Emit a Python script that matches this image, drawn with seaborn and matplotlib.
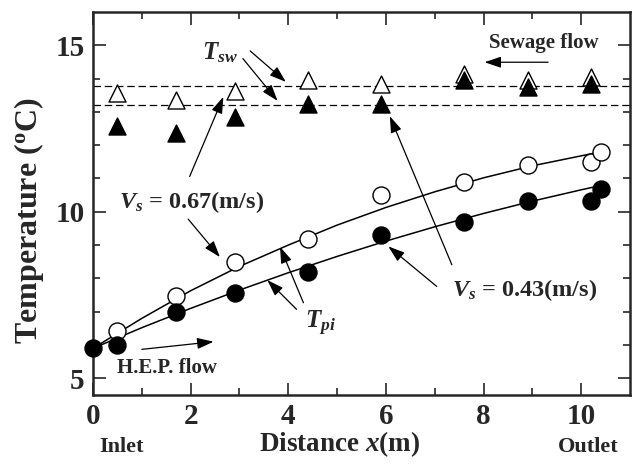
import matplotlib
matplotlib.use('Agg')
import matplotlib.pyplot as plt
import numpy as np
import pandas as pd
import seaborn as sns

# measured points
tri_x = [0.5, 1.7, 2.9, 4.4, 5.9, 7.6, 8.9, 10.2]
tsw_067 = [13.56, 13.35, 13.62, 13.95, 13.83, 14.13, 13.95, 14.04]
tsw_043 = [12.57, 12.36, 12.85, 13.23, 13.23, 13.95, 13.74, 13.83]

circ_x = [0.5, 1.7, 2.9, 4.4, 5.9, 7.6, 8.9, 10.2, 10.4]
tpi_067 = [6.41, 7.46, 8.5, 9.19, 10.51, 10.9, 11.41, 11.49, 11.81]
tpi_043 = [5.99, 7.0, 7.57, 8.2, 9.31, 9.7, 10.31, 10.31, 10.69]
inlet_x = [0.0]
inlet_t = [5.9]

# fitted curves
curve_x = [0, 1, 2, 3, 4, 5, 6, 7, 8, 9, 10, 10.4]
curve_067 = [5.9, 6.8, 7.63, 8.36, 9.0, 9.6, 10.13, 10.6, 11.02, 11.38,
             11.68, 11.8]
curve_043 = [5.9, 6.52, 7.1, 7.65, 8.17, 8.66, 9.12, 9.55, 9.95, 10.32,
             10.66, 10.79]

# mean sewage temperature lines
tsw_mean = [13.78, 13.2]

sns.set_style('ticks')
plt.rcParams['font.family'] = ['Liberation Serif', 'DejaVu Serif']
plt.rcParams['font.weight'] = 'bold'
plt.rcParams['mathtext.fontset'] = 'custom'
plt.rcParams['mathtext.rm'] = 'Liberation Serif:bold'
plt.rcParams['mathtext.it'] = 'Liberation Serif:bold:italic'
plt.rcParams['mathtext.bf'] = 'Liberation Serif:bold'

fig = plt.figure(figsize=(6.39, 4.70), dpi=100)
ax = fig.add_axes([0.1455, 0.1596, 0.8405, 0.815])

tri = pd.DataFrame({'x': tri_x, 'open': tsw_067, 'filled': tsw_043})
circ = pd.DataFrame({'x': circ_x, 'open': tpi_067, 'filled': tpi_043})
curves = pd.DataFrame({'x': curve_x, 'c067': curve_067, 'c043': curve_043})

for t in tsw_mean:
    ax.axhline(t, color='black', lw=0.9, ls=(0, (6, 3)), zorder=1)

sns.lineplot(data=curves, x='x', y='c067', ax=ax, color='black', lw=1.1,
             sort=False, estimator=None, zorder=2)
sns.lineplot(data=curves, x='x', y='c043', ax=ax, color='black', lw=1.1,
             sort=False, estimator=None, zorder=2)

msize = 150
sns.scatterplot(data=tri, x='x', y='open', ax=ax, marker='^', s=msize,
                facecolor='white', edgecolor='black', linewidth=1.0, zorder=3)
sns.scatterplot(data=tri, x='x', y='filled', ax=ax, marker='^', s=msize,
                color='black', edgecolor='black', linewidth=1.0, zorder=4)
sns.scatterplot(data=circ, x='x', y='open', ax=ax, marker='o', s=msize,
                facecolor='white', edgecolor='black', linewidth=1.0, zorder=3)
sns.scatterplot(data=circ, x='x', y='filled', ax=ax, marker='o', s=msize,
                color='black', edgecolor='black', linewidth=1.0, zorder=4)
sns.scatterplot(x=inlet_x, y=inlet_t, ax=ax, marker='o', s=msize,
                color='black', edgecolor='black', zorder=5, clip_on=False)

ax.set_xlim(0, 11)
ax.set_ylim(4.5, 16)
ax.set_xticks([0, 2, 4, 6, 8, 10])
ax.set_yticks([5, 10, 15])
ax.set_xticks(np.arange(0, 11, 1), minor=True)
ax.set_yticks(np.arange(5, 16, 1), minor=True)
ax.tick_params(which='both', direction='in', top=True, right=True, width=1.2)
ax.tick_params(which='major', length=9, labelsize=21, pad=6)
ax.tick_params(which='minor', length=5)
for sp in ax.spines.values():
    sp.set_linewidth(1.8)
    sp.set_visible(True)

ax.set_xlabel(r'Distance $x$(m)', fontsize=19.5, fontweight='bold')
ax.set_ylabel(r'Temperature ($^{\rm o}$C)', fontsize=23, fontweight='bold')
ax.xaxis.set_label_coords(0.46, -0.09)
ax.yaxis.set_label_coords(-0.088, 0.454)

fig.text(121 / 639, 1 - 447 / 470, 'Inlet', fontsize=16, fontweight='bold',
         ha='center', va='center')
fig.text(588 / 639, 1 - 447 / 470, 'Outlet', fontsize=16, fontweight='bold',
         ha='center', va='center')

arrow = dict(arrowstyle='-|>,head_length=0.5,head_width=0.17', color='black',
             lw=0.9, mutation_scale=20, shrinkA=0, shrinkB=0)

ax.text(2.6, 14.79, r'$T_{sw}$', fontsize=18, ha='center', va='center')
ax.annotate('', xy=(3.95, 13.9), xytext=(3.22, 14.83), arrowprops=arrow)
ax.annotate('', xy=(3.78, 13.33), xytext=(3.07, 14.6), arrowprops=arrow)

ax.text(9.24, 15.06, 'Sewage flow', fontsize=15, ha='center', va='center')
ax.annotate('', xy=(8.02, 14.49), xytext=(9.32, 14.49), arrowprops=arrow)

ax.text(2.02, 10.3, r'$V_s$ = 0.67(m/s)', fontsize=17.5, ha='center',
        va='center')
ax.annotate('', xy=(2.67, 13.45), xytext=(1.98, 11.06), arrowprops=arrow)
ax.annotate('', xy=(2.6, 8.64), xytext=(1.95, 9.78), arrowprops=arrow)

ax.text(8.83, 7.66, r'$V_s$ = 0.43(m/s)', fontsize=17.5, ha='center',
        va='center')
ax.annotate('', xy=(6.05, 8.96), xytext=(7.04, 7.76), arrowprops=arrow)
ax.annotate('', xy=(6.08, 12.87), xytext=(7.35, 8.41), arrowprops=arrow)

ax.text(4.65, 6.65, r'$T_{pi}$', fontsize=18, ha='center', va='center')
ax.annotate('', xy=(3.83, 8.95), xytext=(4.31, 7.27), arrowprops=arrow)
ax.annotate('', xy=(3.57, 7.95), xytext=(4.17, 7.07), arrowprops=arrow)

ax.text(1.52, 5.3, 'H.E.P. flow', fontsize=15, ha='center', va='center')
ax.annotate('', xy=(2.47, 6.1), xytext=(1.0, 5.87), arrowprops=arrow)

fig.savefig('out.png', dpi=100)
